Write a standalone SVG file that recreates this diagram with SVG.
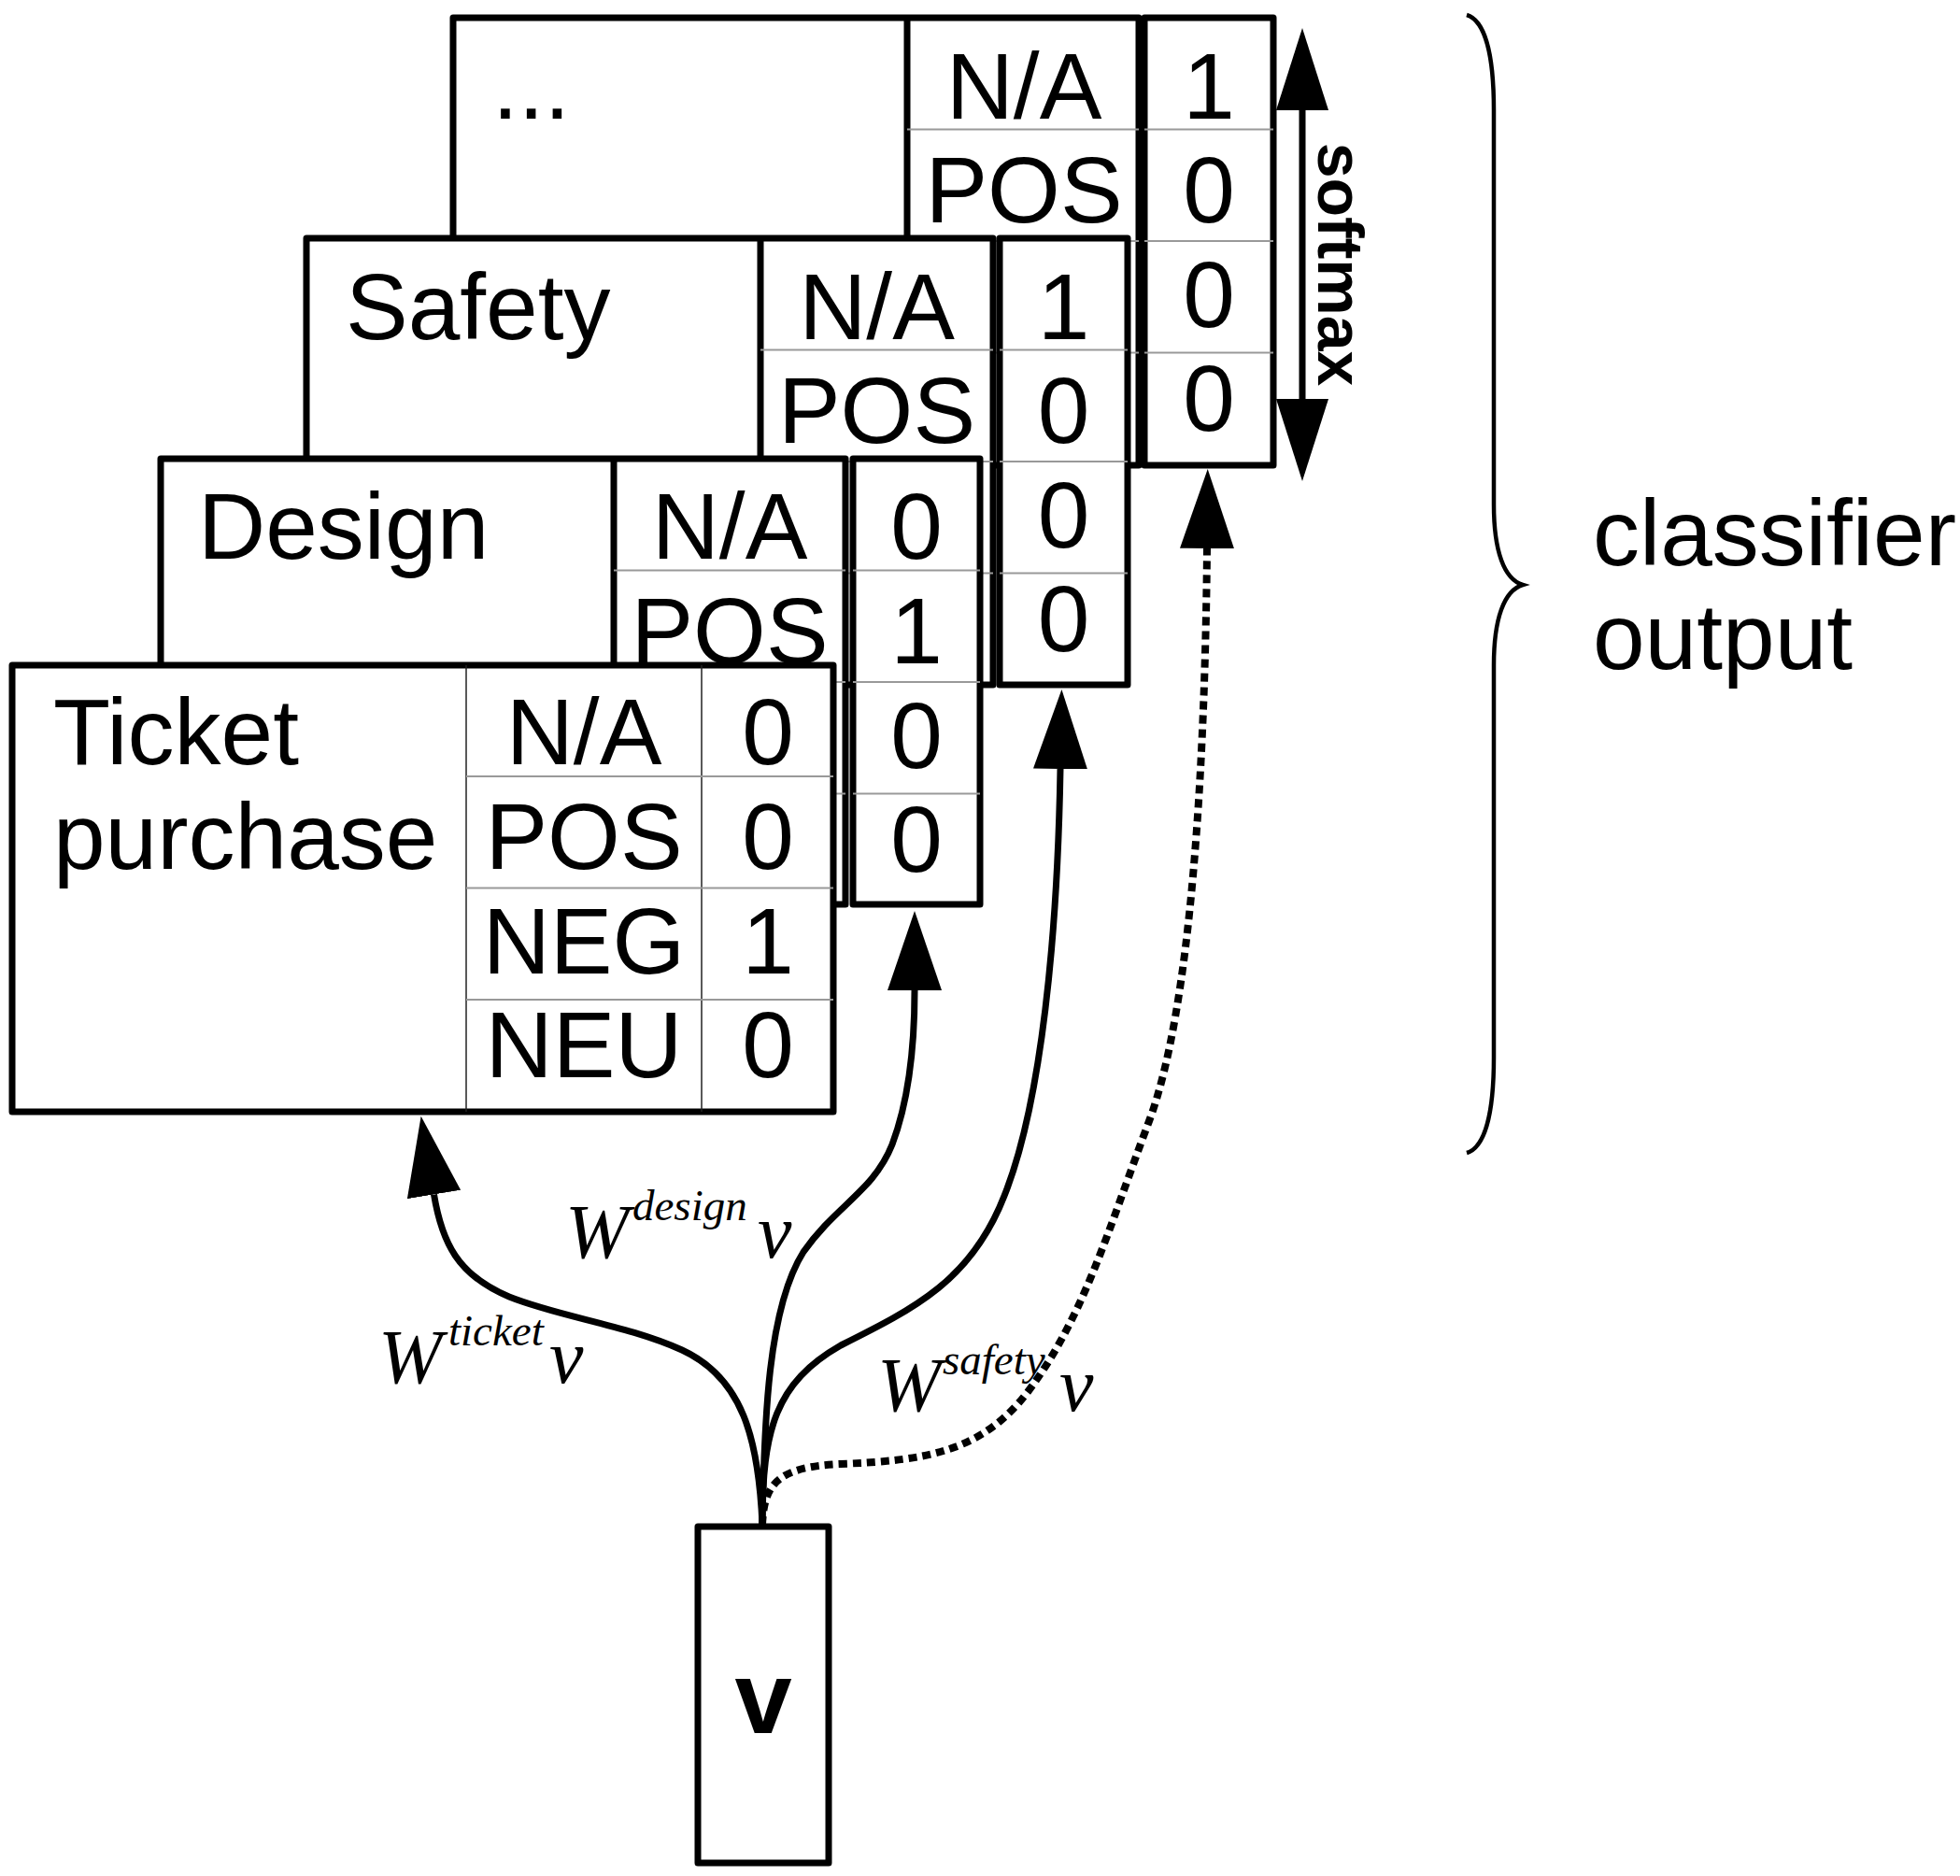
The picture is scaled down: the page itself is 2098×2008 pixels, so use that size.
<svg xmlns="http://www.w3.org/2000/svg" width="2098" height="2008" viewBox="0 0 2098 2008">
<defs>
<style>
.box{fill:#fff;stroke:#000;stroke-width:7;stroke-linejoin:round}
.sep{stroke:#000;stroke-width:7}
.thin{stroke:#222;stroke-width:1.5}
.row{stroke:#999;stroke-width:2}
.t{font-family:"Liberation Sans",Arial,sans-serif;font-size:100px;fill:#000}
.c{text-anchor:middle}
.m{font-family:"Liberation Serif","Times New Roman",serif;font-style:italic;fill:#000}
.big{font-size:82px}
.sup{font-size:47px}
.conn{fill:none;stroke:#000;stroke-width:7}
.dot{stroke-dasharray:9 6;stroke-width:8}
</style>
<marker id="ah" viewBox="0 0 85 58" refX="0" refY="29" markerWidth="85" markerHeight="58" markerUnits="userSpaceOnUse" orient="auto">
<path d="M0,0 L85,29 L0,58 z" fill="#000"/>
</marker>
<marker id="ah2" viewBox="0 0 88 56" refX="0" refY="28" markerWidth="88" markerHeight="56" markerUnits="userSpaceOnUse" orient="auto-start-reverse">
<path d="M0,0 L88,28 L0,56 z" fill="#000"/>
</marker>
</defs>
<rect width="2098" height="2008" fill="#fff"/>

<g id="card-more">
<rect class="box" x="485" y="19" width="734" height="479"/>
<line class="sep" x1="971" y1="19" x2="971" y2="498"/>
<line class="row" x1="971" y1="138.5" x2="1219" y2="138.5"/>
<line class="row" x1="971" y1="258" x2="1219" y2="258"/>
<line class="row" x1="971" y1="377.5" x2="1219" y2="377.5"/>
<rect class="box" x="1225" y="19" width="138" height="479"/>
<line class="row" x1="1225" y1="138.5" x2="1363" y2="138.5"/>
<line class="row" x1="1225" y1="258" x2="1363" y2="258"/>
<line class="row" x1="1225" y1="377.5" x2="1363" y2="377.5"/>
<text class="t" x="527" y="127">...</text>
<text class="t c" x="1096" y="127">N/A</text>
<text class="t c" x="1096" y="238">POS</text>
<text class="t c" x="1294" y="127">1</text>
<text class="t c" x="1294" y="238">0</text>
<text class="t c" x="1294" y="350">0</text>
<text class="t c" x="1294" y="461">0</text>
</g>

<g id="card-safety">
<rect class="box" x="328" y="255" width="735" height="478"/>
<line class="sep" x1="814" y1="255" x2="814" y2="733"/>
<line class="row" x1="814" y1="374.5" x2="1063" y2="374.5"/>
<line class="row" x1="814" y1="494" x2="1063" y2="494"/>
<line class="row" x1="814" y1="613.5" x2="1063" y2="613.5"/>
<rect class="box" x="1070" y="255" width="137" height="478"/>
<line class="row" x1="1070" y1="374.5" x2="1207" y2="374.5"/>
<line class="row" x1="1070" y1="494" x2="1207" y2="494"/>
<line class="row" x1="1070" y1="613.5" x2="1207" y2="613.5"/>
<text class="t" x="370" y="363">Safety</text>
<text class="t c" x="938.5" y="363">N/A</text>
<text class="t c" x="938.5" y="474">POS</text>
<text class="t c" x="1138.5" y="363">1</text>
<text class="t c" x="1138.5" y="474">0</text>
<text class="t c" x="1138.5" y="586">0</text>
<text class="t c" x="1138.5" y="697">0</text>
</g>

<g id="card-design">
<rect class="box" x="172" y="491" width="733" height="477"/>
<line class="sep" x1="657" y1="491" x2="657" y2="968"/>
<line class="row" x1="657" y1="610.5" x2="905" y2="610.5"/>
<line class="row" x1="657" y1="730" x2="905" y2="730"/>
<line class="row" x1="657" y1="849.5" x2="905" y2="849.5"/>
<rect class="box" x="913" y="491" width="136" height="477"/>
<line class="row" x1="913" y1="610.5" x2="1049" y2="610.5"/>
<line class="row" x1="913" y1="730" x2="1049" y2="730"/>
<line class="row" x1="913" y1="849.5" x2="1049" y2="849.5"/>
<text class="t" x="212" y="598">Design</text>
<text class="t c" x="781" y="598">N/A</text>
<text class="t c" x="781" y="710">POS</text>
<text class="t c" x="981" y="598">0</text>
<text class="t c" x="981" y="710">1</text>
<text class="t c" x="981" y="822">0</text>
<text class="t c" x="981" y="933">0</text>
</g>

<g id="card-ticket">
<rect class="box" x="13" y="712" width="879" height="478"/>
<line class="thin" x1="499" y1="712" x2="499" y2="1190"/>
<line class="thin" x1="751" y1="712" x2="751" y2="1190"/>
<line class="row" x1="499" y1="831" x2="892" y2="831"/>
<line class="row" x1="499" y1="950.5" x2="892" y2="950.5"/>
<line class="row" x1="499" y1="1070" x2="892" y2="1070"/>
<text class="t" x="57" y="818">Ticket</text>
<text class="t" x="57" y="930">purchase</text>
<text class="t c" x="625" y="818">N/A</text>
<text class="t c" x="625" y="930">POS</text>
<text class="t c" x="625" y="1042">NEG</text>
<text class="t c" x="625" y="1153">NEU</text>
<text class="t c" x="822" y="818">0</text>
<text class="t c" x="822" y="930">0</text>
<text class="t c" x="822" y="1042">1</text>
<text class="t c" x="822" y="1153">0</text>
</g>

<g id="node-v">
<rect class="box" x="747" y="1634" width="140" height="360"/>
<text x="817" y="1855" text-anchor="middle" font-family="Liberation Sans, Arial, sans-serif" font-weight="bold" font-size="110">v</text>
</g>

<g id="softmax">
<path d="M1394,118 L1394,427" fill="none" stroke="#000" stroke-width="7" marker-start="url(#ah2)" marker-end="url(#ah2)"/>
<text transform="translate(1411,283) rotate(90)" text-anchor="middle" font-family="Liberation Sans, Arial, sans-serif" font-weight="bold" font-size="68">softmax</text>
</g>

<g id="brace">
<path d="M1570,16 C1590,22 1599,60 1599,118 L1599,540 C1599,590 1610,620 1630,626 C1610,632 1599,662 1599,712 L1599,1132 C1599,1190 1590,1228 1570,1234" fill="none" stroke="#000" stroke-width="4.5"/>
<text class="t" x="1705" y="605">classifier</text>
<text class="t" x="1705" y="716">output</text>
</g>

<g id="connectors">
<path class="conn" d="M816,1632 C812,1540 795,1475 730,1445 C670,1418 600,1410 545,1388 C490,1365 473,1330 464.5,1278.5" marker-end="url(#ah)"/>
<path class="conn" d="M816,1632 C818,1520 822,1400 860,1340 C895,1290 935,1275 955,1225 C972,1180 979,1120 979,1060" marker-end="url(#ah)"/>
<path class="conn" d="M816,1632 C816,1530 830,1480 900,1440 C980,1400 1040,1370 1075,1280 C1115,1180 1132,1000 1135,823" marker-end="url(#ah)"/>
<path class="conn dot" d="M816,1632 C818,1590 830,1570 900,1567 C990,1563 1050,1555 1100,1490 C1160,1410 1185,1320 1230,1200 C1275,1080 1290,820 1292,587" marker-end="url(#ah)"/>
</g>

<g id="labels">
<text class="m big" x="405" y="1480">W</text><text class="m sup" x="480" y="1440">ticket</text><text class="m big" x="588" y="1480">v</text>
<text class="m big" x="605" y="1346">W</text><text class="m sup" x="677" y="1306">design</text><text class="m big" x="811" y="1346">v</text>
<text class="m big" x="939" y="1510">W</text><text class="m sup" x="1009" y="1471">safety</text><text class="m big" x="1134" y="1510">v</text>
</g>
</svg>
